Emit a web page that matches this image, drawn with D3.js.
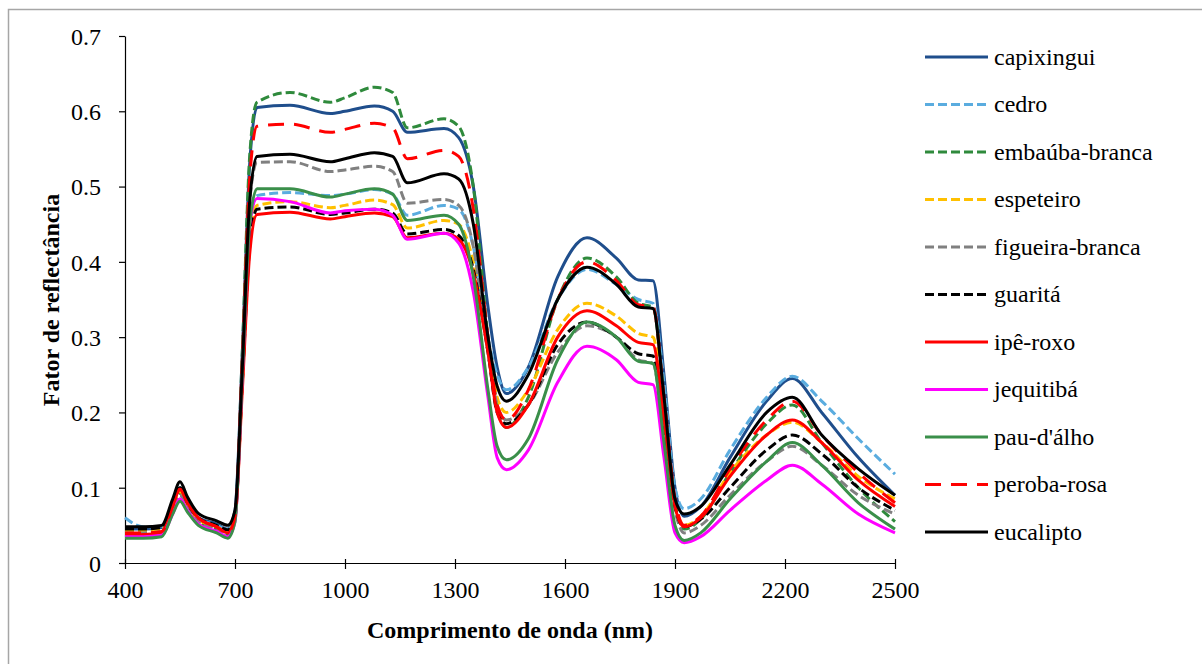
<!DOCTYPE html>
<html>
<head>
<meta charset="utf-8">
<script src="https://cdn.jsdelivr.net/npm/d3@7"></script>
<style>
  body { margin: 0; background: #fff; }
  text { font-family: "Liberation Serif", "Times New Roman", serif; }
</style>
</head>
<body>
<div id="chart"></div>
<script>
// comprimentos de onda (nm)
var wavelengths = [400, 450, 500, 530, 550, 570, 600, 650, 680, 700, 720, 740, 760, 850, 960, 1000, 1080, 1130, 1170, 1270,
                   1310, 1350, 1390, 1415, 1440, 1500, 1580, 1660, 1740, 1800, 1840, 1870, 1900, 1925, 1970, 2050, 2150, 2220, 2300, 2400, 2500];

var capixingui = [0.045, 0.045, 0.047, 0.08, 0.1, 0.08, 0.06, 0.052, 0.045, 0.07, 0.28, 0.53, 0.605, 0.608, 0.597, 0.6, 0.607, 0.6, 0.572, 0.577,
                  0.565, 0.5, 0.34, 0.26, 0.225, 0.26, 0.38, 0.432, 0.405, 0.376, 0.375, 0.25, 0.1, 0.062, 0.075, 0.14, 0.215, 0.245, 0.2, 0.14, 0.09];
var cedro = [0.06, 0.048, 0.048, 0.07, 0.085, 0.075, 0.06, 0.05, 0.045, 0.065, 0.25, 0.45, 0.488, 0.492, 0.488, 0.49, 0.496, 0.49, 0.462, 0.475,
             0.47, 0.42, 0.3, 0.25, 0.23, 0.26, 0.35, 0.39, 0.37, 0.35, 0.345, 0.24, 0.1, 0.072, 0.085, 0.15, 0.22, 0.248, 0.215, 0.165, 0.118];
var embauba = [0.04, 0.04, 0.042, 0.07, 0.092, 0.075, 0.055, 0.045, 0.038, 0.06, 0.28, 0.54, 0.612, 0.625, 0.612, 0.618, 0.632, 0.625, 0.578, 0.59,
               0.58, 0.5, 0.3, 0.21, 0.18, 0.22, 0.35, 0.405, 0.38, 0.345, 0.34, 0.22, 0.08, 0.045, 0.058, 0.12, 0.185, 0.21, 0.16, 0.1, 0.055];
var espeteiro = [0.042, 0.042, 0.044, 0.075, 0.095, 0.078, 0.058, 0.048, 0.042, 0.062, 0.24, 0.43, 0.475, 0.48, 0.472, 0.475, 0.482, 0.476, 0.445, 0.455,
                 0.45, 0.4, 0.29, 0.22, 0.2, 0.23, 0.31, 0.345, 0.328, 0.305, 0.3, 0.2, 0.08, 0.05, 0.062, 0.12, 0.17, 0.187, 0.16, 0.115, 0.085];
var figueira = [0.04, 0.04, 0.042, 0.07, 0.09, 0.075, 0.055, 0.046, 0.04, 0.06, 0.26, 0.48, 0.532, 0.533, 0.52, 0.522, 0.527, 0.52, 0.478, 0.483,
                0.475, 0.42, 0.28, 0.21, 0.19, 0.21, 0.28, 0.315, 0.3, 0.27, 0.265, 0.17, 0.07, 0.04, 0.05, 0.09, 0.135, 0.155, 0.13, 0.09, 0.065];
var guarita = [0.045, 0.045, 0.047, 0.08, 0.1, 0.08, 0.06, 0.05, 0.044, 0.065, 0.24, 0.42, 0.47, 0.473, 0.463, 0.465, 0.47, 0.465, 0.437, 0.443,
               0.435, 0.39, 0.28, 0.2, 0.185, 0.21, 0.29, 0.32, 0.3, 0.278, 0.275, 0.18, 0.075, 0.048, 0.058, 0.1, 0.15, 0.17, 0.145, 0.1, 0.07];
var ipeRoxo = [0.037, 0.038, 0.04, 0.075, 0.098, 0.08, 0.06, 0.048, 0.04, 0.06, 0.23, 0.41, 0.463, 0.466, 0.457, 0.46, 0.465, 0.46, 0.432, 0.438,
               0.43, 0.385, 0.28, 0.2, 0.18, 0.21, 0.3, 0.335, 0.315, 0.293, 0.29, 0.19, 0.075, 0.048, 0.06, 0.115, 0.17, 0.19, 0.16, 0.11, 0.075];
var jequitiba = [0.035, 0.035, 0.037, 0.065, 0.085, 0.07, 0.052, 0.042, 0.035, 0.055, 0.25, 0.45, 0.484, 0.48, 0.465, 0.468, 0.47, 0.462, 0.43, 0.438,
                 0.425, 0.36, 0.22, 0.14, 0.124, 0.15, 0.24, 0.288, 0.27, 0.24, 0.237, 0.14, 0.04, 0.027, 0.035, 0.07, 0.11, 0.13, 0.105, 0.065, 0.04];
var pauDalho = [0.033, 0.033, 0.035, 0.065, 0.082, 0.068, 0.05, 0.04, 0.033, 0.055, 0.25, 0.45, 0.497, 0.497, 0.486, 0.49, 0.497, 0.49, 0.455, 0.462,
                0.45, 0.38, 0.23, 0.155, 0.137, 0.165, 0.27, 0.32, 0.3, 0.268, 0.265, 0.16, 0.05, 0.03, 0.04, 0.085, 0.135, 0.16, 0.13, 0.08, 0.045];
var perobaRosa = [0.04, 0.04, 0.042, 0.075, 0.098, 0.08, 0.06, 0.048, 0.04, 0.062, 0.27, 0.51, 0.58, 0.583, 0.572, 0.576, 0.584, 0.578, 0.537, 0.548,
                  0.54, 0.47, 0.3, 0.21, 0.19, 0.23, 0.35, 0.4, 0.375, 0.343, 0.34, 0.22, 0.085, 0.05, 0.062, 0.125, 0.19, 0.215, 0.17, 0.12, 0.08];
var eucalipto = [0.048, 0.048, 0.05, 0.085, 0.108, 0.088, 0.066, 0.056, 0.05, 0.07, 0.26, 0.48, 0.54, 0.543, 0.533, 0.537, 0.545, 0.54, 0.505, 0.517,
                 0.51, 0.45, 0.3, 0.235, 0.215, 0.25, 0.35, 0.393, 0.37, 0.34, 0.338, 0.22, 0.085, 0.065, 0.075, 0.13, 0.2, 0.22, 0.17, 0.125, 0.09];

var seriesNames = ["capixingui", "cedro", "embaúba-branca", "espeteiro", "figueira-branca", "guaritá",
                   "ipê-roxo", "jequitibá", "pau-d'álho", "peroba-rosa", "eucalipto"];
var seriesValues = [capixingui, cedro, embauba, espeteiro, figueira, guarita, ipeRoxo, jequitiba, pauDalho, perobaRosa, eucalipto];
var seriesColors = ["#1f4e8c", "#5aacdf", "#2f8a3c", "#ffc000", "#808080", "#000000",
                    "#ff0000", "#ff00ff", "#3a8f4a", "#ff0000", "#000000"];
var seriesDash = [null, "9,4", "9,4", "9,4", "9,4", "9,4", null, null, null, "16,10", null];

var xTicks = [400, 700, 1000, 1300, 1600, 1900, 2200, 2500];
var yTicks = [0, 0.1, 0.2, 0.3, 0.4, 0.5, 0.6, 0.7];

var width = 1202, height = 664;

var svg = d3.select("#chart")
            .append("svg")
            .attr("width", width)
            .attr("height", height);

// moldura cinza
svg.append("rect")
   .attr("x", 8.5).attr("y", 9.5)
   .attr("width", 1400).attr("height", 800)
   .style("fill", "none")
   .style("stroke", "#a6a6a6")
   .style("stroke-width", 1.5);

var x = d3.scaleLinear().domain([400, 2500]).range([125, 895]);
var y = d3.scaleLinear().domain([0, 0.7]).range([563, 36]);

var xAxis = svg.append("g")
   .attr("transform", "translate(0,563)")
   .call(d3.axisBottom(x).tickValues(xTicks).tickSize(6).tickSizeOuter(0).tickFormat(d3.format("d")));
xAxis.selectAll("line").attr("y1", -4).attr("y2", 6);

var yAxis = svg.append("g")
   .attr("transform", "translate(125,0)")
   .call(d3.axisLeft(y).tickValues(yTicks).tickSize(6).tickSizeOuter(0).tickFormat(function(d) { return d === 0 ? "0" : d3.format(".1f")(d); }));

svg.selectAll(".domain").style("stroke", "#000").style("stroke-width", 1.2);
svg.selectAll(".tick line").style("stroke", "#000").style("stroke-width", 1.2);
xAxis.selectAll("text").attr("dy", 0).attr("y", 35).style("font-size", "24px").style("fill", "#000");
yAxis.selectAll("text").attr("x", -24).attr("dy", "0.35em").style("font-size", "24px").style("fill", "#000");

// curvas
var line = d3.line()
    .x(function(d) { return x(d[0]); })
    .y(function(d) { return y(d[1]); })
    .curve(d3.curveMonotoneX);

var lines = svg.append("g");
for (var i = 0; i < seriesValues.length; i++) {
    var pts = wavelengths.map(function(w, j) { return [w, seriesValues[i][j]]; });
    lines.append("path")
         .datum(pts)
         .attr("d", line)
         .style("fill", "none")
         .style("stroke", seriesColors[i])
         .style("stroke-width", 3)
         .style("stroke-dasharray", seriesDash[i])
         .style("stroke-linejoin", "round");
}

// títulos dos eixos
svg.append("text")
   .attr("x", 510).attr("y", 638)
   .attr("text-anchor", "middle")
   .style("font-size", "24px").style("font-weight", "bold")
   .text("Comprimento de onda (nm)");

svg.append("text")
   .attr("transform", "translate(59,300) rotate(-90)")
   .attr("text-anchor", "middle")
   .style("font-size", "24px").style("font-weight", "bold")
   .text("Fator de reflectância");

// legenda
var legend = svg.append("g");
for (var k = 0; k < seriesNames.length; k++) {
    var ly = 57 + k * 47.5;
    legend.append("line")
          .attr("x1", 925).attr("x2", 988)
          .attr("y1", ly).attr("y2", ly)
          .style("stroke", seriesColors[k])
          .style("stroke-width", 3)
          .style("stroke-dasharray", seriesDash[k]);
    legend.append("text")
          .attr("x", 994).attr("y", ly)
          .attr("dy", "0.33em")
          .style("font-size", "24px")
          .text(seriesNames[k]);
}
</script>
</body>
</html>
